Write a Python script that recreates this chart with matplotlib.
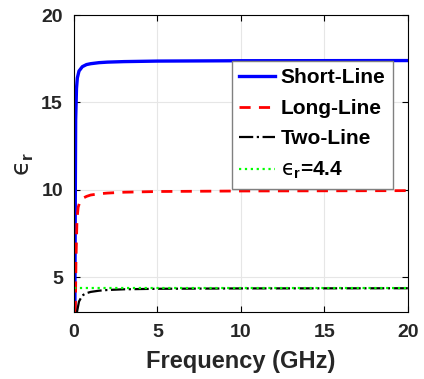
import matplotlib
matplotlib.use("Agg")
import matplotlib.pyplot as plt

# values
freq_short = [0.05, 0.08, 0.1, 0.15, 0.2, 0.3, 0.5, 0.75, 1, 1.5, 2, 3, 5, 10, 20]
er_short = [2.5, 10.0, 14.0, 15.8, 16.4, 16.8, 17.05, 17.17, 17.22, 17.28, 17.31, 17.34, 17.37, 17.39, 17.4]

freq_long = [0.08, 0.12, 0.18, 0.25, 0.35, 0.5, 0.75, 1, 1.5, 2, 3, 5, 10, 20]
er_long = [3.0, 6.0, 8.3, 9.0, 9.3, 9.5, 9.62, 9.7, 9.77, 9.81, 9.86, 9.9, 9.93, 9.95]

freq_two = [0.18, 0.3, 0.5, 0.75, 1, 1.5, 2, 3, 5, 10, 20]
er_two = [3.0, 3.6, 3.95, 4.08, 4.15, 4.22, 4.26, 4.3, 4.33, 4.35, 4.36]

freq_ref = [0, 20]
er_ref = [4.4, 4.4]

plt.rcParams['font.family'] = ['Liberation Sans', 'DejaVu Sans']
plt.rcParams['font.weight'] = 'bold'
plt.rcParams['mathtext.fontset'] = 'custom'
plt.rcParams['mathtext.it'] = 'DejaVu Sans:normal'
plt.rcParams['mathtext.rm'] = 'DejaVu Sans:normal'
plt.rcParams['mathtext.bf'] = 'Liberation Sans:bold'

fig = plt.figure(figsize=(4.24, 3.79), dpi=100)
ax = fig.add_axes([0.1745, 0.1768, 0.7875, 0.7832])

ax.plot(freq_short, er_short, color='#0000ff', lw=2.4, label='Short-Line')
ax.plot(freq_long, er_long, color='#ff0000', lw=2.0, ls=(0, (4, 3)), label='Long-Line')
ax.plot(freq_two, er_two, color='black', lw=1.6, ls='-.', label='Two-Line')
ax.plot(freq_ref, er_ref, color='#00ff00', lw=1.6, ls=':', label='$ϵ_{\\mathbf{r}}$=4.4')

ax.set_xlim(0, 20)
ax.set_ylim(3, 20)
ax.set_xticks([0, 5, 10, 15, 20])
ax.set_yticks([5, 10, 15, 20])
ax.tick_params(direction='in', top=True, right=True, labelsize=14, length=4,
               labelcolor='#262626')
ax.tick_params(axis='x', pad=9)
ax.tick_params(axis='y', pad=8)
ax.grid(True, color='#e6e6e6', lw=0.8)
ax.set_axisbelow(True)

ax.set_xlabel('Frequency (GHz)', fontsize=17, fontweight='bold', color='#262626', labelpad=6)
ax.set_ylabel('$ϵ_{\\mathbf{r}}$', fontsize=18, labelpad=4, color='#262626')

leg = ax.legend(loc='upper right', bbox_to_anchor=(0.955, 0.845), fontsize=15,
                handlelength=1.7, handletextpad=0.3, labelspacing=0.55,
                borderpad=0.35, borderaxespad=0, fancybox=False, framealpha=1)
leg.get_frame().set_edgecolor('#808080')
leg.get_frame().set_linewidth(1.0)

fig.savefig('out.png', dpi=100)
